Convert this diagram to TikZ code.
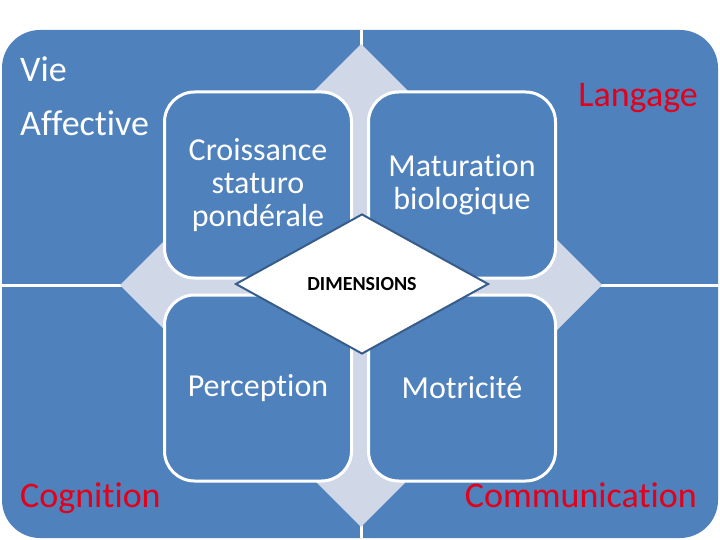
\documentclass[tikz,border=0pt]{standalone}
\usepackage{fontspec}
\setmainfont{Carlito}[Ligatures=NoCommon]
\usetikzlibrary{shapes.geometric}

\definecolor{quadblue}{HTML}{4F81BD}
\definecolor{hubgrey}{HTML}{D0D8E8}
\definecolor{rimblue}{HTML}{385D8A}
\definecolor{labred}{HTML}{E2001A}

\begin{document}
\begin{tikzpicture}[
    x=1pt, y=-1pt,
    quad/.style={
        fill=quadblue,
        rounded corners=38pt
    },
    gap/.style={
        draw=white,
        line width=3pt
    },
    dimbox/.style={
        draw=white,
        line width=3pt,
        fill=quadblue,
        rounded corners=30pt,
        minimum width=187pt,
        minimum height=186pt,
        inner sep=0pt,
        align=center,
        text=white,
        font=\fontsize{32}{33}\selectfont
    },
    core/.style={
        diamond,
        draw=rimblue,
        line width=2pt,
        fill=white,
        minimum width=253pt,
        minimum height=140pt,
        inner sep=0pt,
        font=\bfseries\fontsize{20}{24}\selectfont
    },
    outer/.style={
        inner sep=0pt,
        font=\fontsize{36}{54}\selectfont
    }
]
\useasboundingbox (0,0) rectangle (720,540);

% =========================================================
% Background: four quadrants and the hub diamond
% =========================================================
\fill[quad] (2,30) rectangle (718,538);
\draw[gap] (361,30) -- (361,538);
\draw[gap] (2,285) -- (718,285);
\fill[hubgrey] (361,44) -- (602,285) -- (361,527) -- (120,285) -- cycle;

% =========================================================
% Quadrant labels
% =========================================================
\node[outer,anchor=north west,align=left,text=white] (vie) at (20,57) {Vie\\Affective};
\node[outer,anchor=base east,text=labred] (lang) at (698,107) {Langage};
\node[outer,anchor=base west,text=labred] (cogn) at (20,507) {Cognition};
\node[outer,anchor=base east,text=labred] (comm) at (697,507) {Communication};

% =========================================================
% Inner boxes
% =========================================================
\node[dimbox] (crois)  at (258,185)   {Croissance\\staturo\\pondérale};
\node[dimbox] (matur)  at (462,185)   {Maturation\\biologique};
\node[dimbox] (percep) at (258,388) {Perception};
\node[dimbox] (motri)  at (462,388) {Motricité};

% centre
\node[core] (dim) at (362,284) {DIMENSIONS};

\end{tikzpicture}
\end{document}
